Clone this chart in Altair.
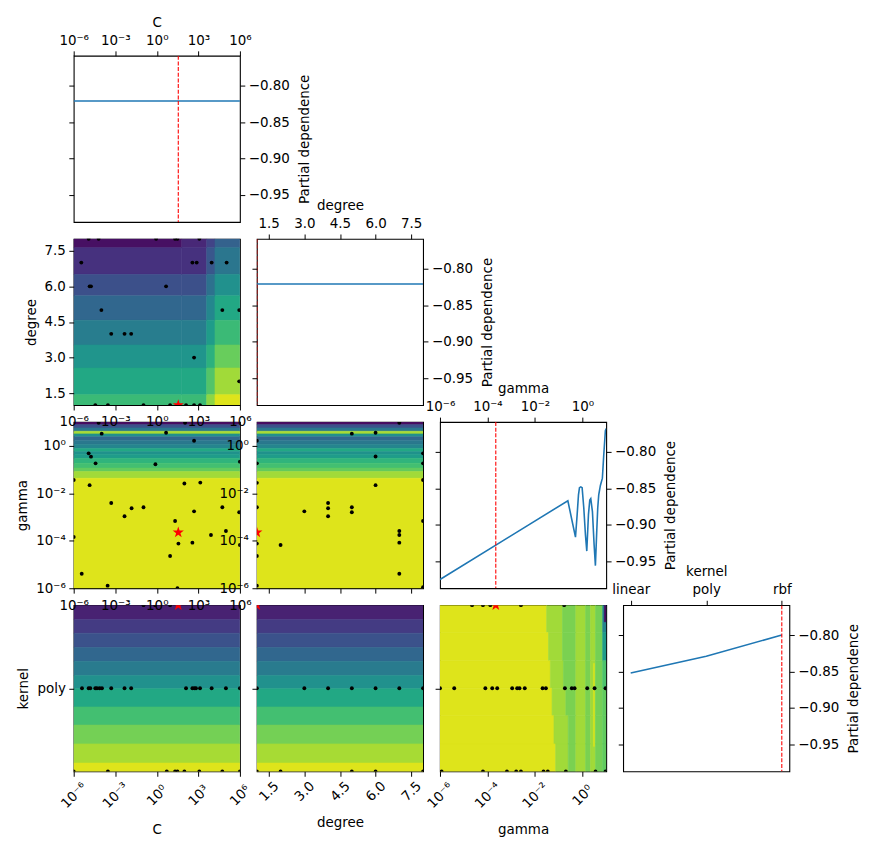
import altair as alt
import pandas as pd

# ---------------- data ----------------
# diagonal partial dependence curves (log10 for C and gamma)
pd_C_x = [-6.0, 6.0]
pd_C_y = [-0.821, -0.821]
pd_deg_x = [1.0, 8.0]
pd_deg_y = [-0.821, -0.821]
pd_gam_x = [-6.0, -0.615, -0.448, -0.294, -0.224, -0.168, -0.126, -0.070, -0.014, 0.056, 0.126, 0.182,
            0.252, 0.308, 0.350, 0.420, 0.490, 0.545, 0.601, 0.643, 0.685, 0.755, 0.839, 0.895, 0.965, 1.0]
pd_gam_y = [-0.975, -0.867, -0.893, -0.917, -0.886, -0.859, -0.849, -0.848, -0.849, -0.877, -0.914, -0.936,
            -0.886, -0.866, -0.864, -0.882, -0.927, -0.956, -0.909, -0.877, -0.859, -0.846, -0.836, -0.805,
            -0.771, -0.768]
pd_ker_x = [0, 1, 2]
pd_ker_y = [-0.852, -0.829, -0.800]
kernel_names = ["linear", "poly", "rbf"]

# best point (red star / dashed line)
best_C, best_deg, best_gam, best_ker = 1.55, 1.0, -3.65, 2.0

# contour bands: C vs degree (4 column segments on log10 C)
cd_xedges = [-6.0, 1.8, 3.6, 4.2, 6.0]
cd_yedges = [8.0, 7.63, 6.5, 5.6, 4.57, 3.53, 2.56, 1.44, 1.0]
cd_levels = [
    [0.04, 0.14, 0.24, 0.33, 0.42, 0.52, 0.60, 0.68],
    [0.11, 0.14, 0.24, 0.33, 0.42, 0.52, 0.60, 0.68],
    [0.20, 0.27, 0.37, 0.46, 0.55, 0.64, 0.73, 0.83],
    [0.31, 0.39, 0.50, 0.60, 0.68, 0.77, 0.86, 0.95],
]
# gamma stripes (log10 gamma), shared by C-gamma and degree-gamma
gam_edges = [1.0, 0.89, 0.75, 0.61, 0.5, 0.375, 0.236, 0.056, -0.11, -0.25, -0.36, -0.53, -0.74, -0.94, -1.08, -1.37, -6.0]
gam_levels = [0.03, 0.25, 0.40, 0.87, 0.50, 0.33, 0.40, 0.45, 0.60, 0.50, 0.55, 0.65, 0.70, 0.76, 0.86, 0.95]
# kernel bands (linear=0, poly=1, rbf=2)
ker_edges = [2.0, 1.829, 1.662, 1.491, 1.324, 1.153, 0.994, 0.775, 0.557, 0.33, 0.1, 0.0]
ker_levels = [0.09, 0.17, 0.25, 0.33, 0.41, 0.50, 0.60, 0.70, 0.79, 0.87, 0.95]
# gamma vs kernel: rows of kernel, breakpoints on log10 gamma
gk_rows = [2.0, 1.67, 1.33, 1.0, 0.67, 0.33, 0.0]
gk_breaks = [
    [-6, -1.51, -0.84, -0.28, 0.13, 0.34, 0.55, 0.85, 1.0],
    [-6, -1.43, -0.84, -0.28, 0.13, 0.34, 0.55, 0.85, 1.0],
    [-6, -1.35, -0.80, -0.28, 0.13, 0.34, 0.55, 0.85, 1.0],
    [-6, -1.28, -0.70, -0.28, 0.13, 0.34, 0.55, 0.85, 1.0],
    [-6, -1.20, -0.60, -0.28, 0.13, 0.34, 0.55, 0.85, 1.0],
    [-6, -1.13, -0.60, -0.28, 0.13, 0.34, 0.55, 0.85, 1.0],
]
gk_levels = [
    [0.95, 0.86, 0.80, 0.86, 0.80, 0.86, 0.79, 0.45],
    [0.95, 0.86, 0.80, 0.86, 0.80, 0.86, 0.79, 0.55],
    [0.95, 0.86, 0.80, 0.86, 0.80, 0.86, 0.79, 0.72],
    [0.95, 0.86, 0.80, 0.86, 0.80, 0.86, 0.79, 0.76],
    [0.95, 0.86, 0.80, 0.86, 0.80, 0.86, 0.79, 0.76],
    [0.95, 0.86, 0.80, 0.86, 0.80, 0.86, 0.79, 0.76],
]
gk_patch_x0 = [0.92, 0.47]
gk_patch_x1 = [1.0, 0.50]
gk_patch_y0 = [1.8, 0.3]
gk_patch_y1 = [2.0, 1.3]
gk_patch_t = [0.03, 0.95]

# sampled points
cd_C = [-4.92, -4.2, -0.05, 1.32, 1.49, 3.07, -5.45, 2.57, 2.88, 3.96, 5.04, -4.85, -4.75, 0.67, -4.0, 4.73,
        5.95, -3.29, -2.33, -1.85, 2.69, 5.95, -4.44, -3.53, -0.96, 0.96, 2.11, 2.69, 3.12]
cd_deg = [8, 8, 8, 8, 8, 8, 7, 7, 7, 7, 7, 6, 6, 6, 5, 5, 5, 4, 4, 4, 3, 2, 1, 1, 1, 1, 1, 1, 1]
cg_C = [-4.2, 2.04, -3.98, 0.67, 2.69, -4.92, -4.75, -4.42, -0.1, 6.0, -6.0, -4.85, 1.99, 3.14, -3.29, -1.82,
        -0.96, -2.33, 4.73, 2.69, 5.95, 1.32, 4.99, 3.91, 1.56, 2.57, -6.0, 6.0, 0.96, -5.42, -3.55, 1.49]
cg_gam = [0.97, 0.97, 0.51, 0.55, 0.21, -0.32, -0.46, -0.74, -0.78, -0.67, -1.44, -1.66, -1.59, -1.55, -2.41,
          -2.63, -2.59, -2.97, -2.59, -2.76, -2.8, -3.17, -3.59, -3.76, -4.12, -4.08, -3.84, -4.18, -4.64,
          -5.39, -5.89, -6.0]
dg_deg = [7, 5, 6, 1, 6, 8, 8, 1, 1, 8, 6, 4, 4, 4, 3, 5, 5, 1, 8, 7, 7, 7, 1, 2, 1, 7, 1, 8]
dg_gam = [0.97, 0.51, 0.55, 0.21, -0.45, -0.32, -0.74, -0.74, -1.56, -1.44, -1.66, -2.41, -2.63, -2.97, -2.76,
          -2.59, -2.8, -2.59, -3.17, -3.59, -3.76, -4.08, -4.12, -4.18, -4.64, -5.39, -5.89, -5.96]
ck_C = [-0.96, -0.12, 0.96, -5.4, -4.92, -4.8, -4.44, -4.32, -4.13, -3.96, -3.29, -2.33, -1.85, 2.11, 2.57,
        2.71, 2.83, 3.12, 3.96, 4.99, 6.0, -6.0, -3.53, 0.72, 1.32, 1.49, 1.99, 3.07, 4.73, 6.0]
ck_ker = [2, 2, 2, 1, 1, 1, 1, 1, 1, 1, 1, 1, 1, 1, 1, 1, 1, 1, 1, 1, 1, 0, 0, 0, 0, 0, 0, 0, 0, 0]
dk_deg = [1, 3, 4, 5, 6, 7, 8, 1, 2, 5, 6, 8]
dk_ker = [1, 1, 1, 1, 1, 1, 1, 0, 0, 0, 0, 0]
gk_gam = [-4.65, -4.19, -3.88, -2.59, -0.77, -6.0, -5.4, -4.09, -3.8, -3.59, -2.96, -2.75, -2.65, -2.43,
          -1.68, -1.54, -0.74, -0.45, -0.33, 0.2, 0.51, 0.97, -5.93, -4.19, -3.18, -2.79, -2.59, -1.64,
          -1.46, -0.7, 0.55, 0.97]
gk_ker = [2, 2, 2, 2, 2, 1, 1, 1, 1, 1, 1, 1, 1, 1, 1, 1, 1, 1, 1, 1, 1, 1, 0, 0, 0, 0, 0, 0, 0, 0, 0, 0]

C_ticks = [-6, -3, 0, 3, 6]
gam_ticks = [-6, -4, -2, 0]
deg_ticks = [1.5, 3.0, 4.5, 6.0, 7.5]
pd_ticks = [-0.80, -0.85, -0.90, -0.95]

# ---------------- styling / helpers ----------------
W = 167
GAP = 17
FONT = "DejaVu Sans"
FS = 13.5
TS = 4.9
PD_DOM = [-0.987, -0.759]
C_DOM, DEG_DOM, GAM_DOM, KER_DOM, KER_DIAG_DOM = [-6, 6], [1, 8], [-6, 1.0], [0, 2], [-0.1, 2.1]
STAR = "M0,-1L0.2245,-0.309L0.951,-0.309L0.363,0.118L0.588,0.809L0,0.382L-0.588,0.809L-0.363,0.118L-0.951,-0.309L-0.2245,-0.309Z"
FRAME = alt.ViewBackground(stroke="black", strokeWidth=1.1)
NOFRAME = alt.ViewBackground(stroke="transparent", strokeWidth=0)

SUP = {"-": "\u207b", "0": "\u2070", "1": "\u00b9", "2": "\u00b2", "3": "\u00b3", "4": "\u2074",
       "5": "\u2075", "6": "\u2076", "7": "\u2077", "8": "\u2078", "9": "\u2079"}


def pow_expr(ticks):
    parts = ""
    for t in ticks:
        s = "10" + "".join(SUP[ch] for ch in str(t))
        parts += f"datum.value == {t} ? '{s}' : "
    return parts + "''"


KER_EXPR = "datum.value == 0 ? 'linear' : datum.value == 1 ? 'poly' : 'rbf'"


def ax(**kw):
    base = dict(grid=False, domain=False, tickSize=TS, tickWidth=1.0, tickColor="black",
                labelFont=FONT, labelFontSize=FS, labelColor="black", labelPadding=3.5,
                titleFont=FONT, titleFontSize=FS, titleFontWeight="normal", titleColor="black",
                labelFlush=False, labelOverlap=False, zindex=1, title=None)
    base.update(kw)
    return alt.Axis(**base)


def sc(dom):
    return alt.Scale(domain=dom, nice=False, zero=False)


COLOR = alt.Color("t:Q", scale=alt.Scale(scheme="viridis", domain=[0, 1]), legend=None)
STROKE = alt.Stroke("t:Q", scale=alt.Scale(scheme="viridis", domain=[0, 1]), legend=None)


def rect_df_bands(xedges, yedges, levels_by_seg):
    rows = []
    for s in range(len(xedges) - 1):
        for i in range(len(yedges) - 1):
            rows.append(dict(x0=xedges[s], x1=xedges[s + 1], y0=yedges[i + 1], y1=yedges[i],
                             t=levels_by_seg[s][i]))
    return pd.DataFrame(rows)


def off_panel(rects, px, py, star, xdom, ydom, xaxis, yaxis, top_axis=None):
    xs, ys = sc(xdom), sc(ydom)
    # with an extra (top) axis the x axes are independent, so only the first layer carries one
    xa_other = None if top_axis is not None else xaxis
    base = alt.Chart(rects).mark_rect(clip=True, strokeWidth=0.6).encode(
        x=alt.X("x0:Q", scale=xs, axis=xaxis), x2="x1:Q",
        y=alt.Y("y0:Q", scale=ys, axis=yaxis), y2="y1:Q",
        color=COLOR, stroke=STROKE)
    pts = alt.Chart(pd.DataFrame({"x0": px, "y0": py})).mark_circle(
        clip=True, color="black", size=15, opacity=1).encode(
        x=alt.X("x0:Q", scale=xs, axis=xa_other), y=alt.Y("y0:Q", scale=ys, axis=yaxis))
    st = alt.Chart(pd.DataFrame({"x0": [star[0]], "y0": [star[1]]})).mark_point(
        clip=True, shape=STAR, filled=True, color="red", size=140, opacity=1).encode(
        x=alt.X("x0:Q", scale=xs, axis=xa_other), y=alt.Y("y0:Q", scale=ys, axis=yaxis))
    layers = [base, pts, st]
    if top_axis is not None:
        ghost = alt.Chart(pd.DataFrame({"x0": px})).mark_point(opacity=0).encode(
            x=alt.X("x0:Q", scale=xs, axis=top_axis))
        layers.append(ghost)
    ch = alt.layer(*layers)
    if top_axis is not None:
        ch = ch.resolve_axis(x="independent")
    return ch.properties(width=W, height=W, view=FRAME)


def diag_panel(xv, yv, best, xdom, xaxis):
    xs, ys = sc(xdom), sc(PD_DOM)
    df = pd.DataFrame({"x": xv, "y": yv})
    line = alt.Chart(df).mark_line(color="#1f77b4", strokeWidth=1.6, clip=True).encode(
        x=alt.X("x:Q", scale=xs, axis=xaxis),
        y=alt.Y("y:Q", scale=ys, axis=ax(orient="right", values=pd_ticks, format=".2f",
                                          title="Partial dependence", titlePadding=8,
                                          titleAngle=270, titleBaseline="top")))
    left = alt.Chart(df).mark_line(opacity=0).encode(
        x=alt.X("x:Q", scale=xs, axis=xaxis),
        y=alt.Y("y:Q", scale=ys, axis=ax(orient="left", values=pd_ticks, labels=False)))
    rule = alt.Chart(pd.DataFrame({"x": [best]})).mark_rule(
        color="red", strokeDash=[4, 1.7], strokeWidth=1.1, clip=True).encode(
        x=alt.X("x:Q", scale=xs, axis=xaxis))
    return alt.layer(line, left, rule).resolve_axis(y="independent").properties(
        width=W, height=W, view=FRAME)


def blank():
    return alt.Chart(pd.DataFrame({"x": [0]})).mark_point(opacity=0).encode(
        x=alt.X("x:Q", axis=None), y=alt.Y("x:Q", axis=None)).properties(
        width=W, height=W, view=NOFRAME)


def top_axis(values, expr, title=None):
    return ax(orient="top", values=values, labelExpr=expr, title=title, titlePadding=4)


def glitch_top(values, expr):
    # tick labels of the panel above that spill onto this panel
    return ax(orient="top", values=values, labelExpr=expr, tickOpacity=0, labelPadding=2.1,
              labelBaseline="top")


def bottom_rot(values, title, pad, expr=None, fmt=None):
    kw = dict(orient="bottom", values=values, title=title, labelAngle=315, labelAlign="center",
              labelBaseline="middle", labelPadding=pad, titlePadding=12)
    if expr:
        kw["labelExpr"] = expr
    if fmt:
        kw["format"] = fmt
    return ax(**kw)


C_EXPR = pow_expr(C_ticks)
G_EXPR = pow_expr(gam_ticks)

# rect tables
cd_rects = rect_df_bands(cd_xedges, cd_yedges, cd_levels)
cg_rects = rect_df_bands([-6, 6], gam_edges, [gam_levels])
dg_rects = rect_df_bands([1, 8], gam_edges, [gam_levels])
ck_rects = rect_df_bands([-6, 6], ker_edges, [ker_levels])
dk_rects = rect_df_bands([1, 8], ker_edges, [ker_levels])
rows = []
for r in range(len(gk_rows) - 1):
    br = gk_breaks[r]
    for s in range(len(br) - 1):
        rows.append(dict(x0=br[s], x1=br[s + 1], y0=gk_rows[r + 1], y1=gk_rows[r], t=gk_levels[r][s]))
for i in range(len(gk_patch_t)):
    rows.append(dict(x0=gk_patch_x0[i], x1=gk_patch_x1[i], y0=gk_patch_y0[i], y1=gk_patch_y1[i],
                     t=gk_patch_t[i]))
gk_rects = pd.DataFrame(rows)

# ---------------- panels ----------------
d0 = diag_panel(pd_C_x, pd_C_y, best_C, C_DOM, top_axis(C_ticks, C_EXPR, "C"))
d1 = diag_panel(pd_deg_x, pd_deg_y, best_deg, DEG_DOM,
                ax(orient="top", values=deg_ticks, format=".1f", title="degree", titlePadding=4))
d2 = diag_panel(pd_gam_x, pd_gam_y, best_gam, GAM_DOM, top_axis(gam_ticks, G_EXPR, "gamma"))
d3 = diag_panel(pd_ker_x, pd_ker_y, best_ker, KER_DIAG_DOM, top_axis([0, 1, 2], KER_EXPR, "kernel"))

p10 = off_panel(cd_rects, cd_C, cd_deg, (best_C, best_deg), C_DOM, DEG_DOM,
                ax(orient="bottom", values=C_ticks, labels=False),
                ax(orient="left", values=deg_ticks, format=".1f", title="degree", titlePadding=6))
p20 = off_panel(cg_rects, cg_C, cg_gam, (best_C, best_gam), C_DOM, GAM_DOM,
                ax(orient="bottom", values=C_ticks, labels=False),
                ax(orient="left", values=gam_ticks, labelExpr=G_EXPR, title="gamma", titlePadding=6),
                top_axis=glitch_top(C_ticks, C_EXPR))
p21 = off_panel(dg_rects, dg_deg, dg_gam, (best_deg, best_gam), DEG_DOM, GAM_DOM,
                ax(orient="bottom", values=deg_ticks, labels=False),
                ax(orient="left", values=gam_ticks, labelExpr=G_EXPR))
p30 = off_panel(ck_rects, ck_C, ck_ker, (best_C, best_ker), C_DOM, KER_DOM,
                bottom_rot(C_ticks, "C", 19, expr=C_EXPR),
                ax(orient="left", values=[1], labelExpr="'poly'", title="kernel", titlePadding=6),
                top_axis=glitch_top(C_ticks, C_EXPR))
p31 = off_panel(dk_rects, dk_deg, dk_ker, (best_deg, best_ker), DEG_DOM, KER_DOM,
                bottom_rot(deg_ticks, "degree", 15, fmt=".1f"),
                ax(orient="left", values=[1], labels=False))
p32 = off_panel(gk_rects, gk_gam, gk_ker, (best_gam, best_ker), GAM_DOM, KER_DOM,
                bottom_rot(gam_ticks, "gamma", 19, expr=G_EXPR),
                ax(orient="left", values=[1], labels=False))

cells = [d0, blank(), blank(), blank(),
         p10, d1, blank(), blank(),
         p20, p21, d2, blank(),
         p30, p31, p32, d3]
chart = alt.concat(*cells, columns=4, spacing=GAP, bounds="flush").properties(
    padding={"left": 7, "top": 5, "right": 5, "bottom": 5}
).configure_view(stroke="transparent").configure(background="white")

chart.save("out.html", embed_options={"renderer": "svg", "actions": False})
